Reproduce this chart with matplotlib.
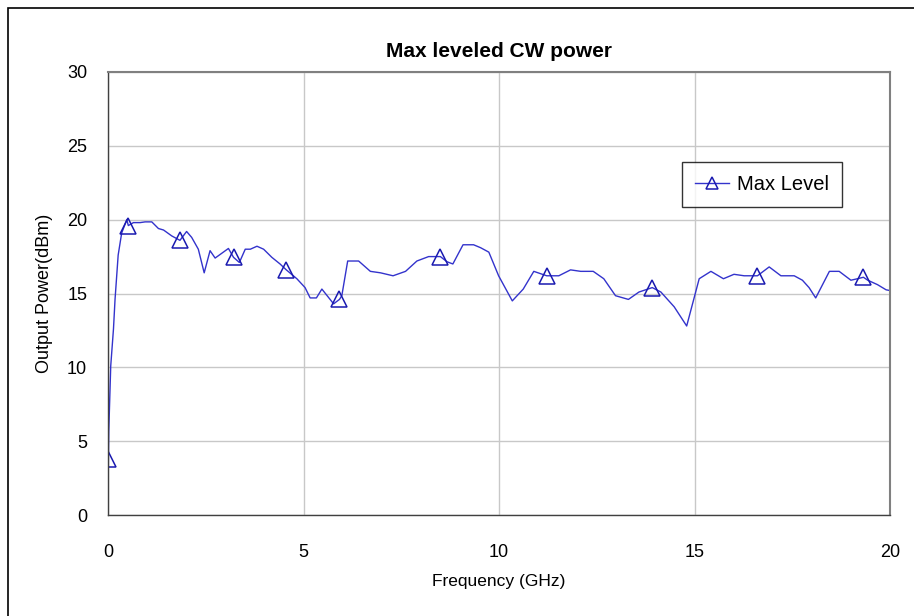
import matplotlib.pyplot as plt
from matplotlib.patches import Rectangle

plt.rcParams['font.family'] = ['Liberation Sans', 'DejaVu Sans']

# frequency (GHz) and max leveled output power (dBm)
freq = [0.0, 0.01, 0.02, 0.07, 0.14, 0.18, 0.26, 0.35, 0.48, 0.52, 0.65, 0.82, 0.95,
        1.12, 1.29, 1.42, 1.63, 1.84, 2.01, 2.14, 2.31, 2.46, 2.61, 2.74, 3.08,
        3.21, 3.36, 3.51, 3.64, 3.81, 3.98, 4.19, 4.4, 4.56, 4.83, 5.04, 5.17,
        5.33, 5.47, 5.77, 5.92, 5.98, 6.13, 6.41, 6.71, 6.97, 7.29, 7.61, 7.9,
        8.2, 8.5, 8.67, 8.82, 9.08, 9.35, 9.53, 9.74, 9.99, 10.34, 10.62, 10.89,
        11.22, 11.53, 11.83, 12.09, 12.41, 12.68, 12.98, 13.31, 13.58, 13.92,
        14.14, 14.48, 14.8, 15.12, 15.42, 15.74, 16.01, 16.27, 16.61, 16.91,
        17.21, 17.55, 17.76, 17.93, 18.1, 18.45, 18.7, 19.0, 19.17, 19.32,
        19.43, 19.68, 19.9, 20.0]
power = [0.0, 3.8, 5.7, 10.1, 12.6, 14.6, 17.6, 19.1, 20.0, 19.6, 19.8, 19.8, 19.85,
         19.85, 19.4, 19.3, 18.9, 18.6, 19.2, 18.8, 18.0, 16.4, 17.9, 17.4, 18.05,
         17.45, 17.1, 18.0, 18.0, 18.2, 18.0, 17.45, 17.0, 16.6, 16.0, 15.4, 14.7,
         14.7, 15.3, 14.3, 14.6, 14.85, 17.2, 17.2, 16.5, 16.4, 16.2, 16.5, 17.2,
         17.5, 17.5, 17.15, 17.0, 18.3, 18.3, 18.1, 17.8, 16.2, 14.5, 15.3, 16.5,
         16.2, 16.2, 16.6, 16.5, 16.5, 16.0, 14.85, 14.6, 15.1, 15.4,
         15.1, 14.1, 12.8, 16.0, 16.5, 16.0, 16.3, 16.2, 16.2, 16.8,
         16.2, 16.2, 15.9, 15.4, 14.7, 16.5, 16.5, 15.9, 16.0, 16.1,
         15.9, 15.6, 15.25, 15.2]
marker_freqs = [0.01, 0.52, 1.84, 3.21, 4.56, 5.92, 8.5, 11.22, 13.92, 16.61, 19.32]
marks = [freq.index(f) for f in marker_freqs]

fig = plt.figure(figsize=(9.14, 6.16), dpi=100)
fig.patches.append(Rectangle((8 / 914, -0.1), 1.2, 1 - 8 / 616 + 0.1,
                             transform=fig.transFigure, fill=False,
                             edgecolor='black', linewidth=1.2))
ax = fig.add_axes([108 / 914, 1 - 515 / 616, 782 / 914, 443 / 616])

ax.plot(freq, power, color='#3333CC', linewidth=1.0, marker='^',
        markevery=marks, markersize=11, markerfacecolor='none',
        markeredgecolor='#1A1AB0', markeredgewidth=1.1, label='Max Level')

ax.set_xlim(0, 20)
ax.set_ylim(0, 30)
ax.set_xticks([0, 5, 10, 15, 20])
ax.set_yticks([0, 5, 10, 15, 20, 25, 30])
ax.grid(True, color='#C8C8C8', linewidth=1.0)
ax.set_axisbelow(True)
ax.tick_params(length=0, labelsize=13)
ax.tick_params(axis='x', pad=21)
ax.tick_params(axis='y', pad=15)
for s in ['top', 'right']:
    ax.spines[s].set_color('#808080')
    ax.spines[s].set_linewidth(1.5)
for s in ['left', 'bottom']:
    ax.spines[s].set_color('#404040')
    ax.spines[s].set_linewidth(1.0)

ax.set_title('Max leveled CW power', fontsize=15, fontweight='bold', pad=11)
ax.set_xlabel('Frequency (GHz)', fontsize=12.5, labelpad=9)
ax.set_ylabel('Output Power(dBm)', fontsize=13, labelpad=10)

leg = ax.legend(loc='upper left', bbox_to_anchor=((682 - 108) / 782, (515 - 162) / 443),
                fontsize=14.5, frameon=True, fancybox=False, handlelength=1.7,
                handletextpad=0.4, borderpad=0.65, borderaxespad=0, markerscale=0.8)
leg.get_frame().set_edgecolor('black')
leg.get_frame().set_linewidth(1.0)

fig.savefig('out.png', dpi=100)
